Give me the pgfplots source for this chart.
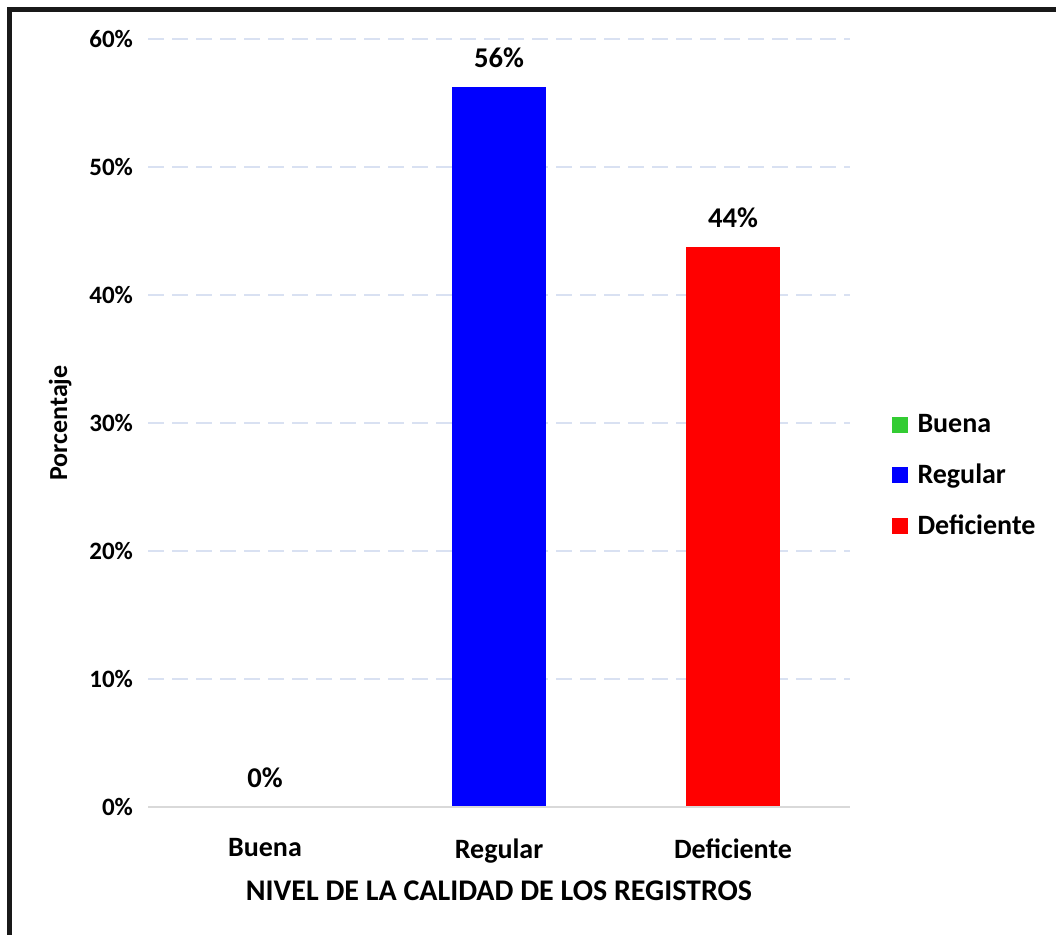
\documentclass[border=0pt]{standalone}
\usepackage{pgfplots}
\pgfplotsset{compat=1.18}
\usepackage{fontspec}
\setmainfont{Carlito}
\definecolor{gridc}{HTML}{D9E1F2}
\definecolor{basec}{HTML}{D9D9D9}
\definecolor{cgreen}{HTML}{33CC33}
\definecolor{cblue}{HTML}{0000FF}
\definecolor{cred}{HTML}{FF0000}
\begin{document}
\begin{tikzpicture}
\useasboundingbox (0pt,0pt) rectangle (528pt,-467.5pt);
\draw[line width=2.5pt,color=black!90] (4.75pt,-472pt) -- (4.75pt,-4.75pt) -- (532pt,-4.75pt);
\begin{axis}[
  at={(74pt,-403.5pt)}, anchor=south west,
  scale only axis,
  width=351pt, height=384pt,
  xmin=-0.5, xmax=2.5, ymin=0, ymax=60,
  xtick={0,1,2},
  xticklabels={Buena,Regular,Deficiente},
  ytick={0,10,20,30,40,50,60},
  yticklabel={\pgfmathprintnumber{\tick}\%},
  /pgf/number format/assume math mode=true,
  yticklabel style={font=\fontsize{12.5}{14}\selectfont\bfseries, xshift=-4pt},
  xticklabel style={font=\fontsize{14}{16}\selectfont\bfseries, yshift=-8pt},
  axis line style={draw=none},
  tick style={draw=none},
  ymajorgrids,
  grid style={gridc, line width=1pt, dash pattern=on 8pt off 4pt},
  xlabel={NIVEL DE LA CALIDAD DE LOS REGISTROS},
  xlabel style={font=\fontsize{15}{17}\selectfont\bfseries, yshift=-2pt},
  ylabel={Porcentaje},
  ylabel style={font=\fontsize{13}{15}\selectfont\bfseries, yshift=2pt},
  ybar, bar width=47pt, bar shift=0pt,
  nodes near coords={\pgfmathprintnumber[fixed,precision=0]{\pgfplotspointmeta}\%},
  every node near coord/.append style={font=\fontsize{14.3}{16}\selectfont\bfseries, yshift=6pt, /pgf/number format/assume math mode=true},
  legend style={at={(1.05,0.431)}, anchor=west, draw=none, fill=none,
    font=\fontsize{14}{16}\selectfont\bfseries, row sep=10pt},
  legend cell align=left,
  legend image code/.code={\fill[#1] (0pt,-4pt) rectangle (8pt,4pt); \path (11pt,0pt);},
  clip=false,
]
\addplot[fill=cgreen, draw=none] coordinates {(0,0)};
\addplot[fill=cblue, draw=none] coordinates {(1,56.25)};
\addplot[fill=cred, draw=none] coordinates {(2,43.75)};
\draw[basec, line width=1pt] (axis cs:-0.5,0) -- (axis cs:2.5,0);
\legend{Buena,Regular,Deficiente}
\end{axis}
\end{tikzpicture}
\end{document}
